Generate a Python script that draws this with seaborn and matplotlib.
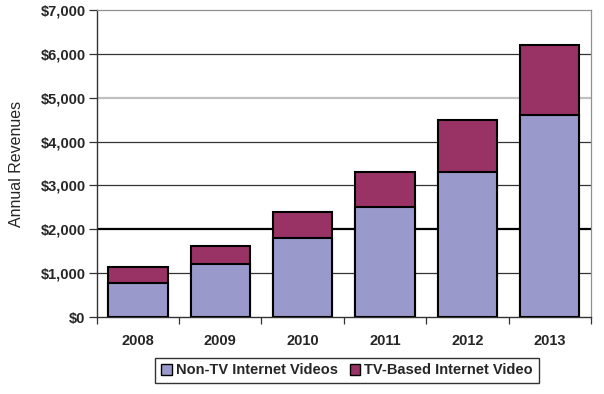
import matplotlib
matplotlib.use("Agg")
import matplotlib.pyplot as plt
import seaborn as sns
import pandas as pd
from matplotlib.patches import Patch
from matplotlib.ticker import FixedLocator, FuncFormatter

years = ["2008", "2009", "2010", "2011", "2012", "2013"]
non_tv = [780, 1200, 1800, 2500, 3300, 4600]
tv_based = [370, 420, 600, 800, 1200, 1600]
series_names = ["Non-TV Internet Videos", "TV-Based Internet Video"]
y_ticks = [0, 1000, 2000, 3000, 4000, 5000, 6000, 7000]

totals = [a + b for a, b in zip(non_tv, tv_based)]
df = pd.DataFrame({"year": years, "non_tv": non_tv, "total": totals})

sns.set_theme(style="white")
plt.rcParams["font.family"] = ["Liberation Sans", "DejaVu Sans"]

c_non = "#9999CC"
c_tv = "#993366"

fig = plt.figure(figsize=(6.04, 3.94), dpi=100)
ax = fig.add_axes([96.7 / 604, 1 - 317 / 394, (591 - 96.7) / 604, (317 - 10) / 394])

sns.barplot(data=df, x="year", y="total", color=c_tv, saturation=1, width=0.72,
            edgecolor="black", linewidth=1.5, ax=ax, zorder=3)
sns.barplot(data=df, x="year", y="non_tv", color=c_non, saturation=1, width=0.72,
            edgecolor="black", linewidth=1.5, ax=ax, zorder=4)

ax.set_xlim(-0.5, len(years) - 0.5)
ax.set_ylim(0, 7000)
ax.yaxis.set_major_locator(FixedLocator(y_ticks))
ax.yaxis.set_major_formatter(FuncFormatter(lambda v, p: f"${int(v):,}"))

ax.grid(axis="y", zorder=0)
for val, gl in zip(y_ticks, ax.get_ygridlines()):
    if val == 2000:
        gl.set_color("black"); gl.set_linewidth(1.6)
    elif val == 5000:
        gl.set_color("#c0c0c0"); gl.set_linewidth(1.6)
    elif val in (0, 7000):
        gl.set_visible(False)
    else:
        gl.set_color("#333333"); gl.set_linewidth(0.9)

for side in ["top", "right"]:
    ax.spines[side].set_color("#909090")
    ax.spines[side].set_linewidth(0.9)
for side in ["left", "bottom"]:
    ax.spines[side].set_color("#333333")
    ax.spines[side].set_linewidth(1.0)

ax.set_xticks([i - 0.5 for i in range(len(years) + 1)], minor=True)
ax.tick_params(axis="x", which="major", length=0, pad=12)
ax.tick_params(axis="x", which="minor", length=5, width=0.9, color="#333333", direction="out", bottom=True)
ax.tick_params(axis="y", which="major", length=6, width=0.9, color="#333333", direction="out", left=True, pad=2)
for lab in ax.get_xticklabels() + ax.get_yticklabels():
    lab.set_fontsize(10.5)
    lab.set_fontweight("bold")

ax.set_xlabel("")
ax.set_ylabel("Annual Revenues", fontsize=11.5)
ax.yaxis.set_label_coords(-0.147, 0.5)

handles = [Patch(facecolor=c_non, edgecolor="black", linewidth=1.0),
           Patch(facecolor=c_tv, edgecolor="black", linewidth=1.0)]
leg = fig.legend(handles, series_names, loc="center", bbox_to_anchor=(347 / 604, 1 - 370.5 / 394),
                 ncol=2, frameon=True, fancybox=False, prop={"weight": "bold", "size": 10.5},
                 handlelength=0.75, handleheight=0.75, handletextpad=0.25, columnspacing=0.8,
                 borderpad=0.4)
leg.get_frame().set_edgecolor("black")
leg.get_frame().set_linewidth(1.0)

fig.savefig("out.png", dpi=100)
